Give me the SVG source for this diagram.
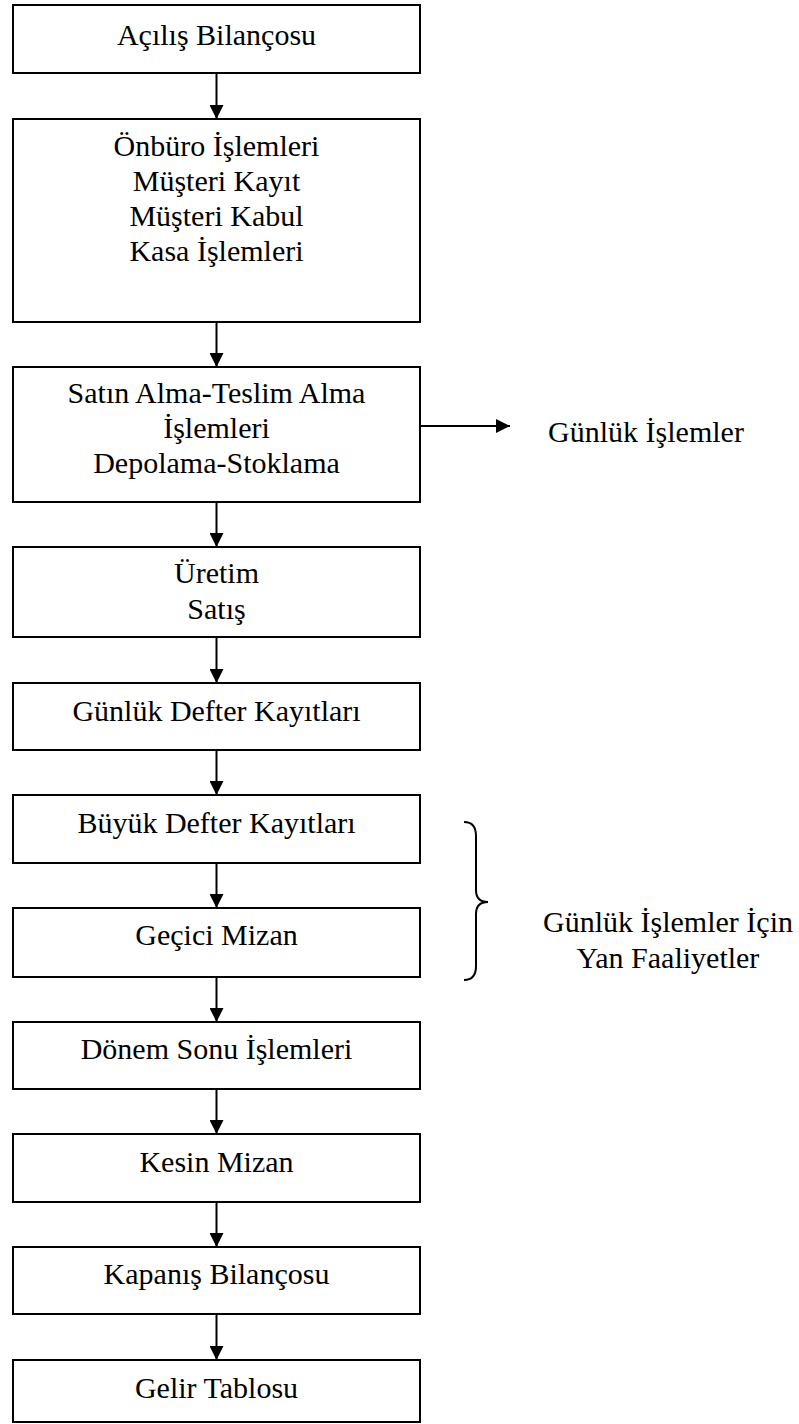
<svg xmlns="http://www.w3.org/2000/svg" width="799" height="1424" viewBox="0 0 799 1424">
<style>
.box{fill:#fff;stroke:#000;stroke-width:2}
.t{font-family:"Liberation Serif","Times New Roman",serif;font-size:30px;fill:#000;text-anchor:middle}
.c{stroke:#000;stroke-width:2;fill:none}
</style>
<defs>
<marker id="ah" viewBox="0 0 14 14" refX="14" refY="7" markerWidth="14" markerHeight="14" markerUnits="userSpaceOnUse" orient="auto">
<path d="M0,0 L14,7 L0,14 Z" fill="#000"/>
</marker>
</defs>
<rect width="799" height="1424" fill="#fff"/>
<g id="n1"><rect class="box" x="13" y="5" width="407" height="68"/><text class="t" x="216.5" y="45">Açılış Bilançosu</text></g>
<g id="n2"><rect class="box" x="13" y="119" width="407" height="203"/><text class="t" x="216.5" y="156">Önbüro İşlemleri</text><text class="t" x="216.5" y="191">Müşteri Kayıt</text><text class="t" x="216.5" y="226">Müşteri Kabul</text><text class="t" x="216.5" y="261">Kasa İşlemleri</text></g>
<g id="n3"><rect class="box" x="13" y="367" width="407" height="135"/><text class="t" x="216.5" y="403">Satın Alma-Teslim Alma</text><text class="t" x="216.5" y="438">İşlemleri</text><text class="t" x="216.5" y="473">Depolama-Stoklama</text></g>
<g id="n4"><rect class="box" x="13" y="547" width="407" height="90"/><text class="t" x="216.5" y="583">Üretim</text><text class="t" x="216.5" y="619">Satış</text></g>
<g id="n5"><rect class="box" x="13" y="683" width="407" height="67"/><text class="t" x="216.5" y="721">Günlük Defter Kayıtları</text></g>
<g id="n6"><rect class="box" x="13" y="795" width="407" height="68"/><text class="t" x="216.5" y="833">Büyük Defter Kayıtları</text></g>
<g id="n7"><rect class="box" x="13" y="908" width="407" height="69"/><text class="t" x="216.5" y="945">Geçici Mizan</text></g>
<g id="n8"><rect class="box" x="13" y="1022" width="407" height="67"/><text class="t" x="216.5" y="1059">Dönem Sonu İşlemleri</text></g>
<g id="n9"><rect class="box" x="13" y="1134" width="407" height="68"/><text class="t" x="216.5" y="1172">Kesin Mizan</text></g>
<g id="n10"><rect class="box" x="13" y="1247" width="407" height="67"/><text class="t" x="216.5" y="1284">Kapanış Bilançosu</text></g>
<g id="n11"><rect class="box" x="13" y="1360" width="407" height="62"/><text class="t" x="216.5" y="1398">Gelir Tablosu</text></g>
<g id="l1"><text class="t" x="646" y="442">Günlük İşlemler</text></g>
<g id="l2"><text class="t" x="668" y="932">Günlük İşlemler İçin</text><text class="t" x="668" y="968">Yan Faaliyetler</text></g>
<g id="connectors">
<line class="c" x1="216.5" y1="73" x2="216.5" y2="119" marker-end="url(#ah)"/>
<line class="c" x1="216.5" y1="322" x2="216.5" y2="367" marker-end="url(#ah)"/>
<line class="c" x1="216.5" y1="502" x2="216.5" y2="547" marker-end="url(#ah)"/>
<line class="c" x1="216.5" y1="637" x2="216.5" y2="683" marker-end="url(#ah)"/>
<line class="c" x1="216.5" y1="750" x2="216.5" y2="795" marker-end="url(#ah)"/>
<line class="c" x1="216.5" y1="863" x2="216.5" y2="908" marker-end="url(#ah)"/>
<line class="c" x1="216.5" y1="977" x2="216.5" y2="1022" marker-end="url(#ah)"/>
<line class="c" x1="216.5" y1="1089" x2="216.5" y2="1134" marker-end="url(#ah)"/>
<line class="c" x1="216.5" y1="1202" x2="216.5" y2="1247" marker-end="url(#ah)"/>
<line class="c" x1="216.5" y1="1314" x2="216.5" y2="1360" marker-end="url(#ah)"/>
<line class="c" x1="420" y1="426" x2="510" y2="426" marker-end="url(#ah)"/>
<path class="c" stroke-width="1.5" d="M464,822 Q476,822 476,836 L476,890 Q476,902 488,902 Q476,902 476,914 L476,966 Q476,980 464,980"/>
</g>
</svg>
